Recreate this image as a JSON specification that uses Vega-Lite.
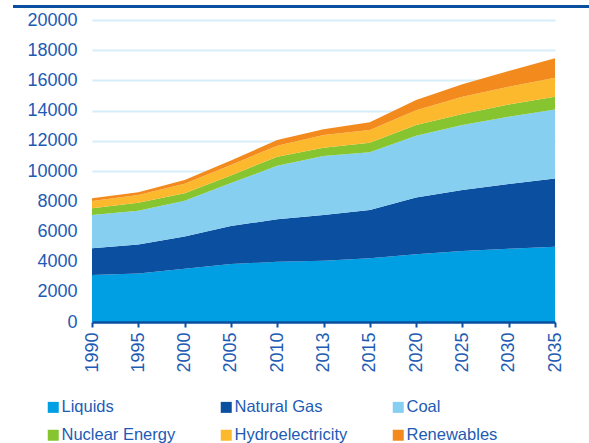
{
  "$schema": "https://vega.github.io/schema/vega-lite/v6.json",
  "width": 463,
  "height": 302,
  "autosize": {"type": "none"},
  "padding": {"left": 92, "top": 20, "right": 34, "bottom": 121},
  "background": "white",
  "config": {"view": {"stroke": null}, "font": "Liberation Sans"},
  "data": {
    "values": [
      {"year": "1990", "Liquids": 3110, "Natural Gas": 1770, "Coal": 2200, "Nuclear Energy": 450, "Hydroelectricity": 480, "Renewables": 180},
      {"year": "1995", "Liquids": 3220, "Natural Gas": 1920, "Coal": 2230, "Nuclear Energy": 530, "Hydroelectricity": 510, "Renewables": 180},
      {"year": "2000", "Liquids": 3530, "Natural Gas": 2140, "Coal": 2360, "Nuclear Energy": 490, "Hydroelectricity": 640, "Renewables": 240},
      {"year": "2005", "Liquids": 3840, "Natural Gas": 2520, "Coal": 2840, "Nuclear Energy": 500, "Hydroelectricity": 700, "Renewables": 300},
      {"year": "2010", "Liquids": 3990, "Natural Gas": 2810, "Coal": 3550, "Nuclear Energy": 600, "Hydroelectricity": 730, "Renewables": 370},
      {"year": "2013", "Liquids": 4060, "Natural Gas": 3020, "Coal": 3910, "Nuclear Energy": 550, "Hydroelectricity": 840, "Renewables": 380},
      {"year": "2015", "Liquids": 4220, "Natural Gas": 3190, "Coal": 3830, "Nuclear Energy": 630, "Hydroelectricity": 840, "Renewables": 520},
      {"year": "2020", "Liquids": 4480, "Natural Gas": 3770, "Coal": 4080, "Nuclear Energy": 710, "Hydroelectricity": 990, "Renewables": 670},
      {"year": "2025", "Liquids": 4700, "Natural Gas": 4040, "Coal": 4300, "Nuclear Energy": 730, "Hydroelectricity": 1150, "Renewables": 820},
      {"year": "2030", "Liquids": 4850, "Natural Gas": 4290, "Coal": 4450, "Nuclear Energy": 820, "Hydroelectricity": 1170, "Renewables": 1040},
      {"year": "2035", "Liquids": 4990, "Natural Gas": 4520, "Coal": 4570, "Nuclear Energy": 840, "Hydroelectricity": 1250, "Renewables": 1290}
    ]
  },
  "layer": [
    {
      "transform": [
        {"fold": ["Liquids", "Natural Gas", "Coal", "Nuclear Energy", "Hydroelectricity", "Renewables"], "as": ["source", "value"]},
        {"calculate": "indexof(['Liquids','Natural Gas','Coal','Nuclear Energy','Hydroelectricity','Renewables'], datum.source)", "as": "rank"}
      ],
      "mark": {"type": "area", "opacity": 1},
      "encoding": {
        "x": {
          "field": "year", "type": "ordinal",
          "scale": {"type": "point", "padding": 0},
          "axis": {
            "title": null, "labelAngle": -90, "labelFontSize": 18, "labelColor": "#1d5bb4",
            "tickColor": "#0a4fa0", "tickSize": 5, "tickWidth": 2,
            "domainColor": "#0a4fa0", "domainWidth": 2.5, "labelPadding": 5, "grid": false, "zindex": 1
          }
        },
        "y": {
          "field": "value", "type": "quantitative", "stack": "zero",
          "scale": {"domain": [0, 20000], "nice": false},
          "axis": {
            "title": null, "values": [0, 2000, 4000, 6000, 8000, 10000, 12000, 14000, 16000, 18000, 20000], "format": "d",
            "grid": true, "gridColor": "#d5eef9", "gridWidth": 2, "domain": false, "ticks": false,
            "labelPadding": 15, "labelFontSize": 18, "labelColor": "#1d5bb4"
          }
        },
        "color": {
          "field": "source", "type": "nominal",
          "scale": {
            "domain": ["Liquids", "Natural Gas", "Coal", "Nuclear Energy", "Hydroelectricity", "Renewables"],
            "range": ["#009fe3", "#0a4fa0", "#87cff0", "#87c530", "#fdb92d", "#f28a1e"]
          },
          "legend": {
            "title": null, "orient": "none", "legendX": -47, "legendY": 379, "columns": 3, "direction": "horizontal",
            "symbolType": "square", "symbolSize": 121, "symbolStrokeWidth": 0, "symbolOpacity": 1,
            "labelFontSize": 16.5, "labelColor": "#1d5bb4", "labelOffset": 0,
            "columnPadding": 42, "rowPadding": 11, "padding": 0
          }
        },
        "order": {"field": "rank", "type": "quantitative"}
      }
    },
    {
      "mark": {"type": "rule", "color": "#0a4fa0", "strokeWidth": 2.5, "clip": false, "xOffset": -79, "x2Offset": 34},
      "encoding": {
        "x": {"datum": "1990", "type": "ordinal"},
        "x2": {"datum": "2035"},
        "y": {
          "datum": 20900, "type": "quantitative",
          "axis": {
            "title": null, "values": [0, 2000, 4000, 6000, 8000, 10000, 12000, 14000, 16000, 18000, 20000], "format": "d",
            "grid": true, "gridColor": "#d5eef9", "gridWidth": 2, "domain": false, "ticks": false,
            "labelPadding": 15, "labelFontSize": 18, "labelColor": "#1d5bb4"
          }
        }
      }
    }
  ]
}
